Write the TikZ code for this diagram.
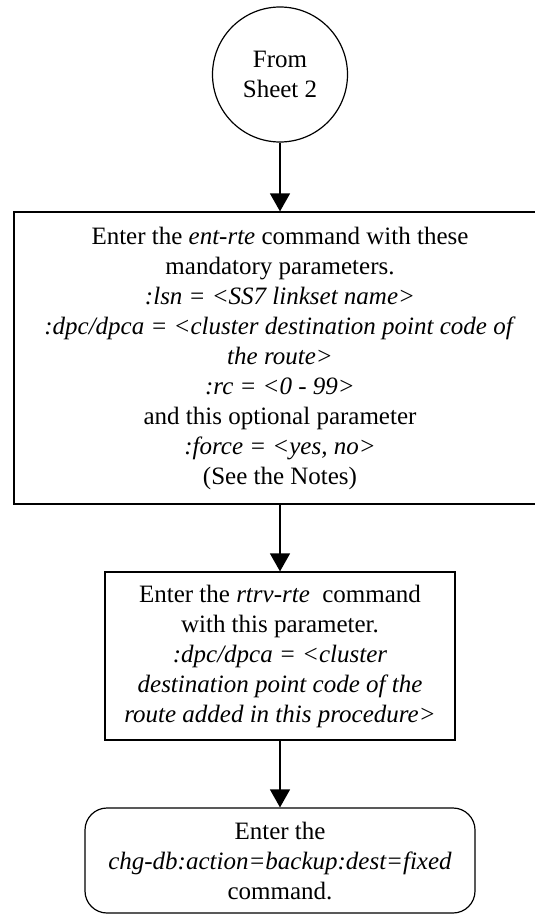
\documentclass[tikz,border=0pt]{standalone}
\usepackage{fontspec}
\setmainfont{Liberation Serif}
\usetikzlibrary{arrows.meta}
\begin{document}
\begin{tikzpicture}[x=1pt,y=1pt,
  txt/.style={align=center, inner sep=0pt, font=\fontsize{25}{30}\selectfont},
  box/.style={txt, draw, line width=1.2pt},
  conn/.style={line width=1.2pt, -{Triangle[length=18pt,width=20pt]}}]
\useasboundingbox (0,0) rectangle (535,-915);
\node[txt, draw, circle, line width=1.2pt, minimum size=135pt] (c) at (280,-74.5) {From\\Sheet 2};
\node[box, minimum width=532pt, minimum height=292pt] (b1) at (280,-358)
  {Enter the \textit{ent-rte} command with these\\
   mandatory parameters.\\
   \textit{:lsn = <SS7 linkset name>}\\
   \textit{:dpc/dpca = <cluster destination point code of}\\
   \textit{the route>}\\
   \textit{:rc = <0 - 99>}\\
   and this optional parameter\\
   \textit{:force = <yes, no>}\\
   (See the Notes)};
\node[box, minimum width=350pt, minimum height=168pt] (b2) at (280,-656)
  {Enter the \textit{rtrv-rte}\ \ command\\
   with this parameter.\\
   \textit{:dpc/dpca = <cluster}\\
   \textit{destination point code of the}\\
   \textit{route added in this procedure>}};
\node[box, rounded corners=22pt, minimum width=390pt, minimum height=105pt] (b3) at (280,-860.5)
  {Enter the\\
   \textit{chg-db:action=backup:dest=fixed}\\
   command.};
\draw[conn] (c) -- (b1);
\draw[conn] (b1) -- (b2);
\draw[conn] (b2) -- (b3);
\end{tikzpicture}
\end{document}
